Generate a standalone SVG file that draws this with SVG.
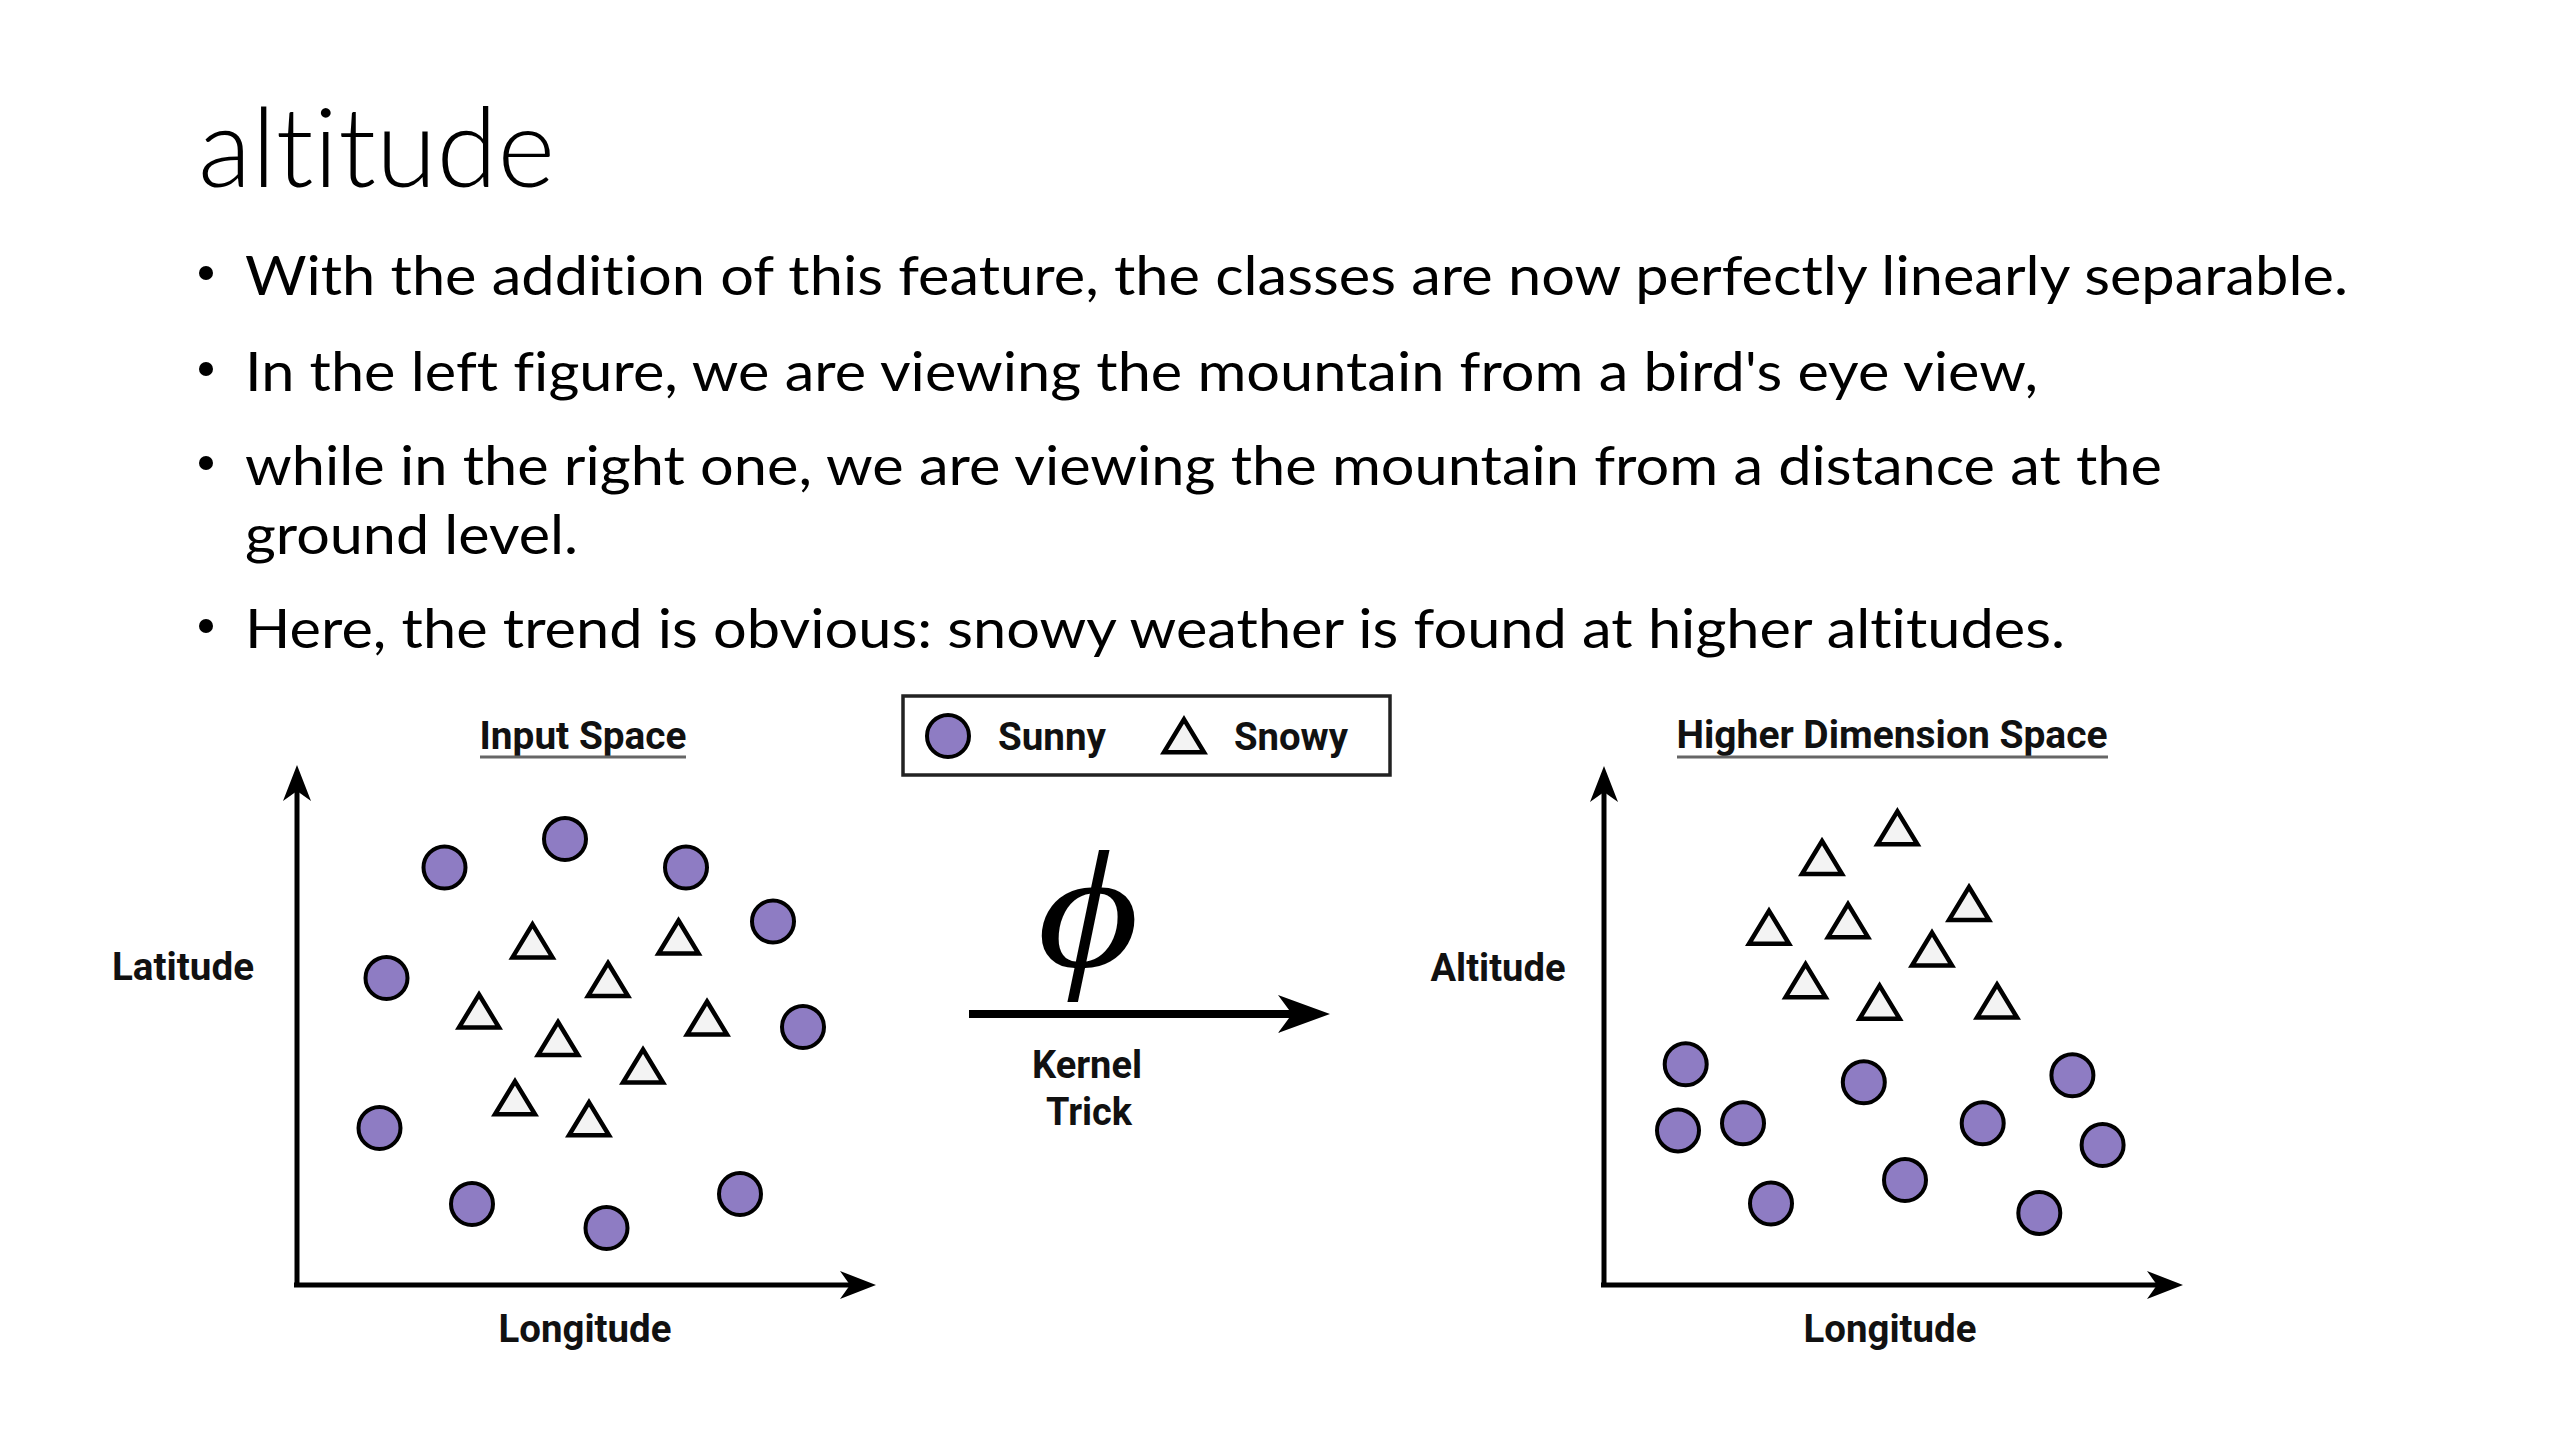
<svg xmlns="http://www.w3.org/2000/svg" xmlns:xlink="http://www.w3.org/1999/xlink" width="2560" height="1440" viewBox="0 0 2560 1440">
<style>
text{font-variant-ligatures:none;font-feature-settings:"liga" 0,"clig" 0,"dlig" 0}
.slide{font-family:Lato,"Open Sans","Noto Sans",sans-serif;fill:#000}
.title{font-size:110px;font-weight:300}
.bul{font-size:55px}
.lbl{font-family:Roboto,"Liberation Sans",Arial,sans-serif;font-weight:bold;font-size:38px;fill:#111}
.axis{stroke:#000;stroke-width:5;fill:none}
.sunny{fill:#8e7cc3;stroke:#000;stroke-width:4}
.snowy{fill:#f3f3f3;stroke:#000;stroke-width:4.5;stroke-linejoin:miter}
.uline{stroke:#666;stroke-width:3}
</style>
<defs>
<circle id="dot" r="21"/>
<path id="tri" d="M0,-17 L20,16 L-20,16 Z"/>
<marker id="axhead" markerUnits="userSpaceOnUse" viewBox="0 -14 36 28" refX="24" refY="0" markerWidth="36" markerHeight="28" orient="auto">
<path d="M0,-14 L36,0 L0,14 L10,0 Z" fill="#000"/>
</marker>
<marker id="khead" markerUnits="userSpaceOnUse" viewBox="0 -19 52 38" refX="36" refY="0" markerWidth="52" markerHeight="38" orient="auto">
<path d="M0,-19 L52,0 L0,19 L14,0 Z" fill="#000"/>
</marker>
</defs>
<rect width="2560" height="1440" fill="#fff"/>

<g id="title">
<text class="slide title" x="198" y="187" textLength="357" lengthAdjust="spacingAndGlyphs">altitude</text>
</g>

<g id="bullets">
<circle cx="206" cy="273" r="7" fill="#000"/>
<text class="slide bul" x="245" y="295" textLength="2103" lengthAdjust="spacingAndGlyphs">With the addition of this feature, the classes are now perfectly linearly separable.</text>
<circle cx="206" cy="369" r="7" fill="#000"/>
<text class="slide bul" x="245" y="391" textLength="1793" lengthAdjust="spacingAndGlyphs">In the left figure, we are viewing the mountain from a bird's eye view,</text>
<circle cx="206" cy="463" r="7" fill="#000"/>
<text class="slide bul" x="245" y="485" textLength="1917" lengthAdjust="spacingAndGlyphs">while in the right one, we are viewing the mountain from a distance at the</text>
<text class="slide bul" x="245" y="554" textLength="333" lengthAdjust="spacingAndGlyphs">ground level.</text>
<circle cx="206" cy="626" r="7" fill="#000"/>
<text class="slide bul" x="245" y="648" textLength="1820" lengthAdjust="spacingAndGlyphs">Here, the trend is obvious: snowy weather is found at higher altitudes.</text>
</g>

<g id="connectors">
<line id="left-y-axis" class="axis" x1="297" y1="1287" x2="297" y2="777" marker-end="url(#axhead)"/>
<line id="left-x-axis" class="axis" x1="294" y1="1285" x2="864" y2="1285" marker-end="url(#axhead)"/>
<line id="right-y-axis" class="axis" x1="1604" y1="1287" x2="1604" y2="778" marker-end="url(#axhead)"/>
<line id="right-x-axis" class="axis" x1="1601" y1="1285" x2="2171" y2="1285" marker-end="url(#axhead)"/>
<line id="kernel-arrow" x1="969" y1="1014" x2="1314" y2="1014" stroke="#000" stroke-width="8" marker-end="url(#khead)"/>
</g>

<g id="input-space">
<text class="lbl" x="583" y="749" text-anchor="middle" textLength="207" lengthAdjust="spacingAndGlyphs">Input Space</text>
<line class="uline" x1="480" y1="757" x2="686" y2="757"/>
<text class="lbl" x="183" y="980" text-anchor="middle" textLength="142" lengthAdjust="spacingAndGlyphs">Latitude</text>
<text class="lbl" x="585" y="1342" text-anchor="middle" textLength="173" lengthAdjust="spacingAndGlyphs">Longitude</text>
<g id="left-sunny">
<use href="#dot" class="sunny" x="444.5" y="867.5"/>
<use href="#dot" class="sunny" x="565" y="839"/>
<use href="#dot" class="sunny" x="686" y="867.5"/>
<use href="#dot" class="sunny" x="773" y="921.5"/>
<use href="#dot" class="sunny" x="386.5" y="978"/>
<use href="#dot" class="sunny" x="803" y="1027"/>
<use href="#dot" class="sunny" x="379.5" y="1128"/>
<use href="#dot" class="sunny" x="472" y="1204"/>
<use href="#dot" class="sunny" x="606.5" y="1228"/>
<use href="#dot" class="sunny" x="740" y="1194"/>
</g>
<g id="left-snowy">
<use href="#tri" class="snowy" x="532.5" y="941.4"/>
<use href="#tri" class="snowy" x="678.5" y="937.5"/>
<use href="#tri" class="snowy" x="608" y="980"/>
<use href="#tri" class="snowy" x="479" y="1011.5"/>
<use href="#tri" class="snowy" x="707" y="1018.5"/>
<use href="#tri" class="snowy" x="558" y="1039"/>
<use href="#tri" class="snowy" x="643" y="1066.5"/>
<use href="#tri" class="snowy" x="515" y="1098.3"/>
<use href="#tri" class="snowy" x="589" y="1119.3"/>
</g>
</g>

<g id="legend">
<rect x="903" y="696" width="487" height="79" fill="#fff" stroke="#222" stroke-width="3.5"/>
<use href="#dot" class="sunny" x="948" y="736"/>
<text class="lbl" x="998" y="750" textLength="108" lengthAdjust="spacingAndGlyphs">Sunny</text>
<use href="#tri" class="snowy" x="1184" y="736.3"/>
<text class="lbl" x="1234" y="750" textLength="114" lengthAdjust="spacingAndGlyphs">Snowy</text>
</g>

<g id="kernel-trick">
<text x="0" y="966" text-anchor="middle" transform="translate(1088,0) scale(1.17,1)" font-family="'Liberation Serif','DejaVu Serif',serif" font-style="italic" font-size="168" fill="#000">ϕ</text>
<text class="lbl" x="1087" y="1078" text-anchor="middle" textLength="110" lengthAdjust="spacingAndGlyphs">Kernel</text>
<text class="lbl" x="1089" y="1125" text-anchor="middle" textLength="86" lengthAdjust="spacingAndGlyphs">Trick</text>
</g>

<g id="higher-dimension-space">
<text class="lbl" x="1892" y="748" text-anchor="middle" textLength="431" lengthAdjust="spacingAndGlyphs">Higher Dimension Space</text>
<line class="uline" x1="1677" y1="757" x2="2108" y2="757"/>
<text class="lbl" x="1498" y="981" text-anchor="middle" textLength="135" lengthAdjust="spacingAndGlyphs">Altitude</text>
<text class="lbl" x="1890" y="1342" text-anchor="middle" textLength="173" lengthAdjust="spacingAndGlyphs">Longitude</text>
<g id="right-snowy">
<use href="#tri" class="snowy" x="1897.4" y="828.3"/>
<use href="#tri" class="snowy" x="1822" y="858"/>
<use href="#tri" class="snowy" x="1969" y="904"/>
<use href="#tri" class="snowy" x="1769" y="927.8"/>
<use href="#tri" class="snowy" x="1848" y="921.2"/>
<use href="#tri" class="snowy" x="1932" y="949.6"/>
<use href="#tri" class="snowy" x="1805.6" y="981.2"/>
<use href="#tri" class="snowy" x="1879.6" y="1002.7"/>
<use href="#tri" class="snowy" x="1997" y="1001.5"/>
</g>
<g id="right-sunny">
<use href="#dot" class="sunny" x="1685.7" y="1064.3"/>
<use href="#dot" class="sunny" x="1678" y="1130.4"/>
<use href="#dot" class="sunny" x="1743" y="1123.3"/>
<use href="#dot" class="sunny" x="1771" y="1203.5"/>
<use href="#dot" class="sunny" x="1863.8" y="1082.3"/>
<use href="#dot" class="sunny" x="1905" y="1180"/>
<use href="#dot" class="sunny" x="1982.7" y="1123.3"/>
<use href="#dot" class="sunny" x="2072.4" y="1075.2"/>
<use href="#dot" class="sunny" x="2102.6" y="1145"/>
<use href="#dot" class="sunny" x="2039.3" y="1213"/>
</g>
</g>
</svg>
